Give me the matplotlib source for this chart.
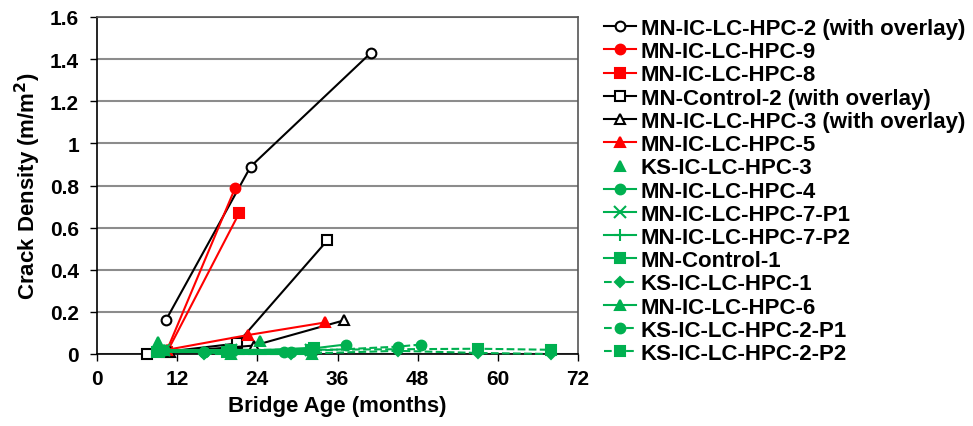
import matplotlib
matplotlib.use("Agg")
import matplotlib.pyplot as plt

plt.rcParams['font.family'] = ['Liberation Sans', 'DejaVu Sans']
plt.rcParams['font.weight'] = 'bold'

BLACK = 'black'
RED = '#FF0000'
GREEN = '#00B050'

labels = [
    "MN-IC-LC-HPC-2 (with overlay)",
    "MN-IC-LC-HPC-9",
    "MN-IC-LC-HPC-8",
    "MN-Control-2 (with overlay)",
    "MN-IC-LC-HPC-3 (with overlay)",
    "MN-IC-LC-HPC-5",
    "KS-IC-LC-HPC-3",
    "MN-IC-LC-HPC-4",
    "MN-IC-LC-HPC-7-P1",
    "MN-IC-LC-HPC-7-P2",
    "MN-Control-1",
    "KS-IC-LC-HPC-1",
    "MN-IC-LC-HPC-6",
    "KS-IC-LC-HPC-2-P1",
    "KS-IC-LC-HPC-2-P2",
]

mn_hpc2_x = [10.3, 23.0, 41.0]
mn_hpc2_y = [0.16, 0.89, 1.43]
mn_hpc9_x = [10.5, 20.7]
mn_hpc9_y = [0.02, 0.79]
mn_hpc8_x = [10.5, 21.3]
mn_hpc8_y = [0.01, 0.67]
mn_ctrl2_x = [7.5, 21.0, 34.5]
mn_ctrl2_y = [0.0, 0.05, 0.54]
mn_hpc3_x = [11.0, 23.5, 37.0]
mn_hpc3_y = [0.01, 0.04, 0.16]
mn_hpc5_x = [10.5, 22.6, 34.2]
mn_hpc5_y = [0.02, 0.09, 0.15]
ks_hpc3_x = [9.2, 24.4]
ks_hpc3_y = [0.055, 0.06]
mn_hpc4_x = [10.0, 16.0, 28.0, 37.2]
mn_hpc4_y = [0.02, 0.01, 0.01, 0.045]
mn_hpc7p1_x = [10.0, 20.0, 32.0]
mn_hpc7p1_y = [0.02, 0.02, 0.02]
mn_hpc7p2_x = [10.0, 20.0, 32.0]
mn_hpc7p2_y = [0.01, 0.01, 0.01]
mn_ctrl1_x = [9.0, 19.5, 32.5]
mn_ctrl1_y = [0.01, 0.01, 0.03]
ks_hpc1_x = [16.0, 29.0, 45.0, 57.0, 68.0]
ks_hpc1_y = [0.0, 0.0, 0.015, 0.005, 0.0]
mn_hpc6_x = [10.0, 20.0, 32.2]
mn_hpc6_y = [0.02, 0.0, 0.0]
ks_hpc2p1_x = [16.0, 29.0, 45.0, 48.5]
ks_hpc2p1_y = [0.01, 0.01, 0.035, 0.045]
ks_hpc2p2_x = [20.0, 32.0, 57.0, 68.0]
ks_hpc2p2_y = [0.02, 0.02, 0.025, 0.02]

x_ticks = [0, 12, 24, 36, 48, 60, 72]
y_ticks = [0, 0.2, 0.4, 0.6, 0.8, 1.0, 1.2, 1.4, 1.6]
y_tick_labels = ["0", "0.2", "0.4", "0.6", "0.8", "1", "1.2", "1.4", "1.6"]

series = [
    (mn_hpc2_x, mn_hpc2_y, BLACK, 'o', 'white', '-'),
    (mn_hpc9_x, mn_hpc9_y, RED, 'o', RED, '-'),
    (mn_hpc8_x, mn_hpc8_y, RED, 's', RED, '-'),
    (mn_ctrl2_x, mn_ctrl2_y, BLACK, 's', 'white', '-'),
    (mn_hpc3_x, mn_hpc3_y, BLACK, '^', 'white', '-'),
    (mn_hpc5_x, mn_hpc5_y, RED, '^', RED, '-'),
    (ks_hpc3_x, ks_hpc3_y, GREEN, '^', GREEN, 'none'),
    (mn_hpc4_x, mn_hpc4_y, GREEN, 'o', GREEN, '-'),
    (mn_hpc7p1_x, mn_hpc7p1_y, GREEN, 'x', GREEN, '-'),
    (mn_hpc7p2_x, mn_hpc7p2_y, GREEN, '+', GREEN, '-'),
    (mn_ctrl1_x, mn_ctrl1_y, GREEN, 's', GREEN, '-'),
    (ks_hpc1_x, ks_hpc1_y, GREEN, 'D', GREEN, '--'),
    (mn_hpc6_x, mn_hpc6_y, GREEN, '^', GREEN, '-'),
    (ks_hpc2p1_x, ks_hpc2p1_y, GREEN, 'o', GREEN, '--'),
    (ks_hpc2p2_x, ks_hpc2p2_y, GREEN, 's', GREEN, '--'),
]

fig = plt.figure(figsize=(9.73, 4.27), dpi=100)
ax = fig.add_axes([97/973, 1-355/427, (578-97)/973, (355-18)/427])

for (x, y, c, m, fc, ls), lab in zip(series, labels):
    ms = 7
    if m == 'D':
        ms = 5.5
    if m in ('x', '+'):
        ms = 8
    ax.plot(x, y, color=c, linestyle=ls, linewidth=1.5, marker=m, markersize=ms,
            markerfacecolor=fc, markeredgecolor=c, markeredgewidth=1.5,
            label=lab, clip_on=False, zorder=3)

ax.set_xlim(0, 72)
ax.set_ylim(0, 1.6)
ax.set_xticks(x_ticks)
ax.set_yticks(y_ticks)
ax.set_yticklabels(y_tick_labels)
ax.tick_params(axis='both', direction='out', length=5, width=1, labelsize=15)
ax.tick_params(axis='y', pad=8)
ax.tick_params(axis='x', pad=6)
for lbl in ax.get_xticklabels() + ax.get_yticklabels():
    lbl.set_fontweight('bold')
ax.yaxis.grid(True, color='#8c8c8c', linewidth=1.5)
ax.set_axisbelow(True)
for s in ['left', 'bottom']:
    ax.spines[s].set_color('black')
    ax.spines[s].set_linewidth(1.2)
for s in ['top', 'right']:
    ax.spines[s].set_color('#555555')
    ax.spines[s].set_linewidth(1.2)

ax.set_xlabel("Bridge Age (months)", fontsize=16, fontweight='bold', labelpad=5)
ax.set_ylabel("Crack Density (m/m$^\\mathbf{2}$)", fontsize=16, fontweight='bold', labelpad=5)

leg = fig.legend(loc='upper left', bbox_to_anchor=(604/973, 1-19/427), frameon=False,
                 prop={'weight': 'bold', 'size': 16}, handlelength=1.45,
                 handletextpad=0.2, labelspacing=0.10, borderaxespad=0, borderpad=0)

fig.savefig("out.png", dpi=100)
